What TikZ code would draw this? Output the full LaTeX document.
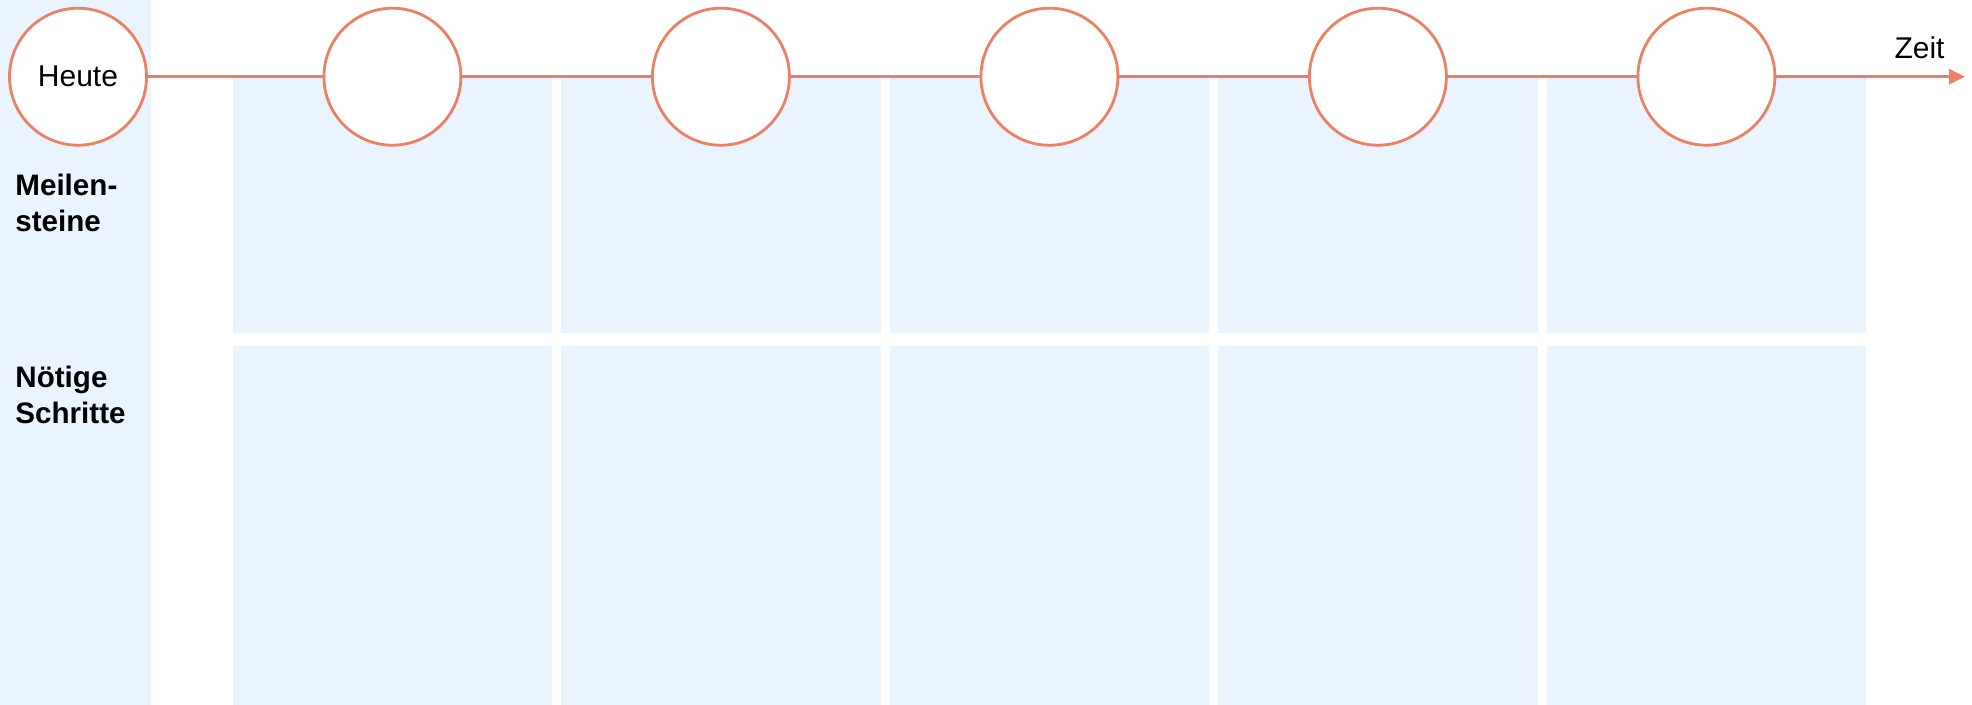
\documentclass[tikz,border=0pt]{standalone}
\usepackage{fontspec}
\setmainfont{Liberation Sans}
\usetikzlibrary{arrows.meta}
\definecolor{lineor}{RGB}{236,128,100}
\definecolor{cellbg}{RGB}{234,244,254}
\begin{document}
\begin{tikzpicture}[x=0.5pt,y=-0.5pt,
  cell/.style={fill=cellbg,draw=none},
  mstone/.style={circle,draw=lineor,line width=1.4pt,fill=white,minimum size=68.5pt,inner sep=0pt,
    font=\fontsize{15}{18}\selectfont},
  rowlabel/.style={anchor=west,align=left,inner sep=0pt,font=\fontsize{14.8}{18}\selectfont\bfseries},
  axis/.style={draw=lineor,line width=1.4pt}]
\useasboundingbox (0,0) rectangle (1972,705);
\fill[white] (0,0) rectangle (1972,705);
% left label column
\fill[cellbg] (0,0) rectangle (151,705);
% grid cells
\foreach \i in {0,...,4}{
  \pgfmathsetmacro{\xl}{232.7+\i*328.5}
  \pgfmathsetmacro{\xr}{\xl+319.5}
  \fill[cellbg] (\xl,76.7) rectangle (\xr,333);
  \fill[cellbg] (\xl,346) rectangle (\xr,705);
}
% timeline
\node[mstone] (m0) at (78,76.7) {Heute};
\coordinate (tip) at (1965,76.7);
\draw[axis,-{Triangle[length=8pt,width=7.5pt]}] (m0.east) -- (tip);
\foreach \i in {1,...,5}{
  \node[mstone] (m\i) at ({392.4+(\i-1)*328.5},76.7) {};
}
\node[anchor=base,inner sep=0pt,font=\fontsize{15}{18}\selectfont] (zeit) at (1919.5,59) {Zeit};
\node[rowlabel] (ms) at (15,203) {Meilen-\\steine};
\node[rowlabel] (ns) at (15,394.5) {Nötige\\Schritte};
\end{tikzpicture}
\end{document}
